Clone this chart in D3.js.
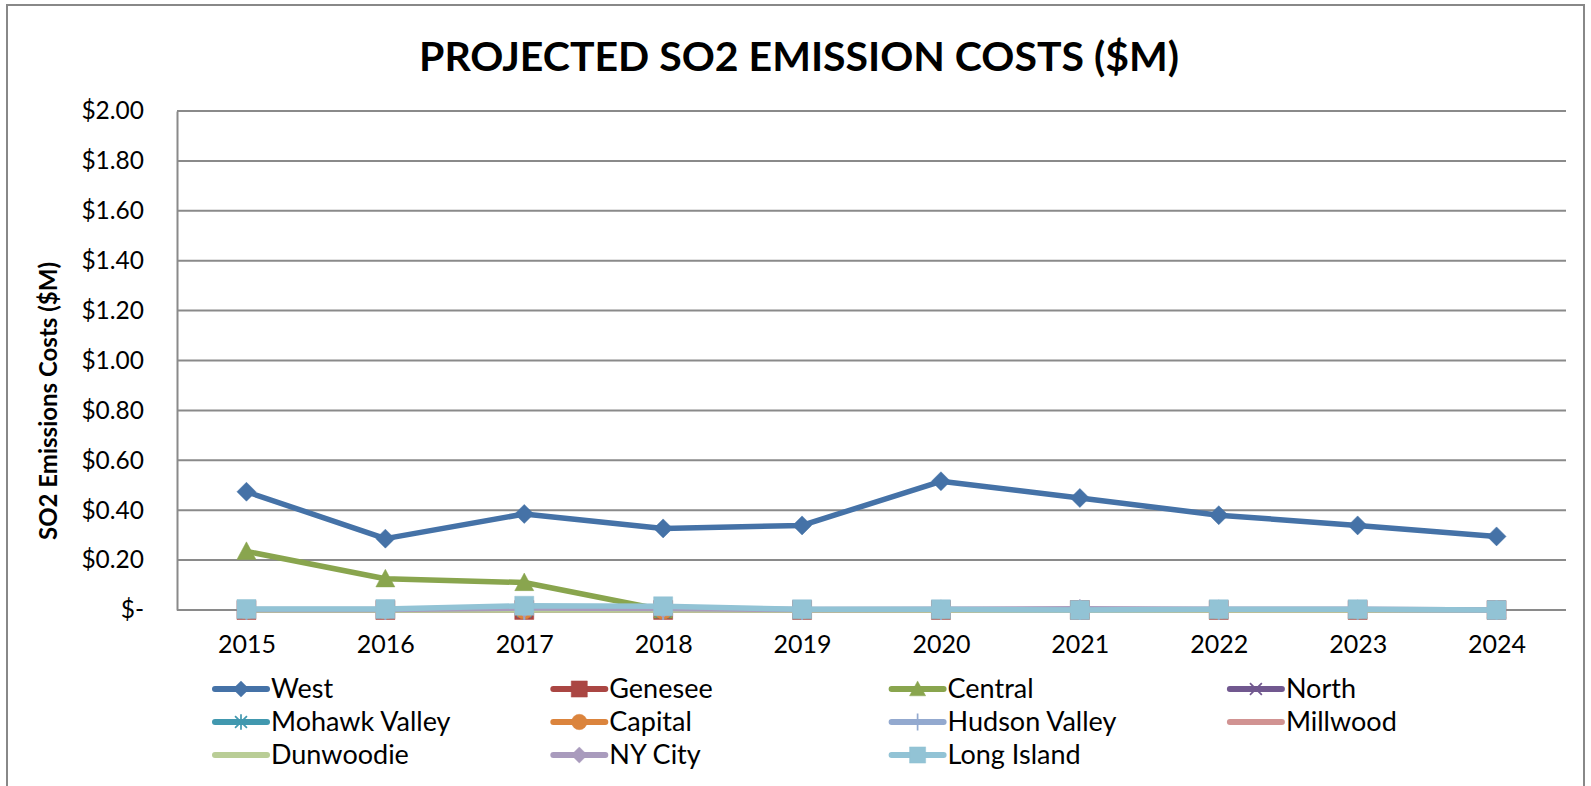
<!DOCTYPE html>
<html>
<head>
<meta charset="utf-8">
<script src="https://cdn.jsdelivr.net/npm/d3@7"></script>
<style>
  body { margin: 0; background: #fff; }
  svg text { font-family: Lato, "Open Sans", sans-serif; fill: #000; }
</style>
</head>
<body>
<div class="chartContainer"></div>
<script>
const width = 1591,
  height = 786;

// data ($M)
const years = [2015, 2016, 2017, 2018, 2019, 2020, 2021, 2022, 2023, 2024];
const west = [0.474, 0.286, 0.385, 0.327, 0.339, 0.516, 0.449, 0.38, 0.339, 0.295];
const genesee = [0, 0, 0, 0, 0, 0, 0, 0, 0, 0];
const central = [0.235, 0.125, 0.11, 0, 0, 0, 0, 0, 0, 0];
const north = [0, 0, 0, 0, 0, 0, 0, 0, 0, 0];
const mohawkValley = [0, 0, 0, 0, 0, 0, 0, 0, 0, 0];
const capital = [0, 0, 0, 0, 0, 0, 0, 0, 0, 0];
const hudsonValley = [0, 0, 0, 0, 0, 0, 0, 0, 0, 0];
const millwood = [0, 0, 0, 0, 0, 0, 0, 0, 0, 0];
const dunwoodie = [0, 0, 0, 0, 0, 0, 0, 0, 0, 0];
const nyCity = [0.002, 0.002, 0.008, 0.006, 0.002, 0.003, 0.005, 0.003, 0.003, 0];
const longIsland = [0.004, 0.004, 0.017, 0.015, 0.003, 0.003, 0, 0.003, 0.003, 0];
const yTicks = [0, 0.2, 0.4, 0.6, 0.8, 1.0, 1.2, 1.4, 1.6, 1.8, 2.0];

const series = [
  { name: "West", values: west, color: "#4572A7", marker: "diamond" },
  { name: "Genesee", values: genesee, color: "#AA4643", marker: "square" },
  { name: "Central", values: central, color: "#89A54E", marker: "triangle" },
  { name: "North", values: north, color: "#71588F", marker: "x" },
  { name: "Mohawk Valley", values: mohawkValley, color: "#4198AF", marker: "star" },
  { name: "Capital", values: capital, color: "#DB843D", marker: "circle" },
  { name: "Hudson Valley", values: hudsonValley, color: "#93A9CF", marker: "plus" },
  { name: "Millwood", values: millwood, color: "#D19392", marker: "none" },
  { name: "Dunwoodie", values: dunwoodie, color: "#B9CD96", marker: "none" },
  { name: "NY City", values: nyCity, color: "#A99BBD", marker: "diamond" },
  { name: "Long Island", values: longIsland, color: "#92C3D5", marker: "square" },
];

const plot = { left: 177, right: 1566, top: 111, bottom: 610 };

const svg = d3
  .select(".chartContainer")
  .append("svg")
  .attr("width", width)
  .attr("height", height);

// chart frame
svg
  .append("rect")
  .attr("x", 7)
  .attr("y", 5)
  .attr("width", 1577)
  .attr("height", 800)
  .attr("fill", "#fff")
  .attr("stroke", "#888")
  .attr("stroke-width", 2);

svg
  .append("text")
  .attr("x", 799)
  .attr("y", 71)
  .attr("text-anchor", "middle")
  .attr("font-size", 41)
  .attr("font-weight", "bold")
  .text("PROJECTED SO2 EMISSION COSTS ($M)");

const xScale = d3
  .scalePoint()
  .domain(years)
  .range([plot.left, plot.right])
  .padding(0.5);

const yScale = d3.scaleLinear().domain([0, 2]).range([plot.bottom, plot.top]);

// gridlines
svg
  .append("g")
  .selectAll("line")
  .data(yTicks)
  .enter()
  .append("line")
  .attr("x1", plot.left)
  .attr("x2", plot.right)
  .attr("y1", (d) => yScale(d))
  .attr("y2", (d) => yScale(d))
  .attr("stroke", "#8a8a8a")
  .attr("stroke-width", 2);

// y axis
const yAxis = d3
  .axisLeft(yScale)
  .tickValues(yTicks)
  .tickSize(0)
  .tickPadding(33)
  .tickFormat((d) => (d === 0 ? "$-" : "$" + d3.format(".2f")(d)));

svg
  .append("g")
  .attr("transform", `translate(${plot.left},0)`)
  .call(yAxis)
  .call((g) => g.select(".domain").attr("stroke", "#8a8a8a").attr("stroke-width", 2))
  .call((g) =>
    g.selectAll("text").attr("font-size", 24.5).attr("font-family", "Lato").attr("fill", "#000")
  );

// x axis
const xAxis = d3.axisBottom(xScale).tickSize(0).tickPadding(25);
svg
  .append("g")
  .attr("transform", `translate(0,${plot.bottom})`)
  .call(xAxis)
  .call((g) => g.select(".domain").remove())
  .call((g) =>
    g.selectAll("text").attr("font-size", 25).attr("font-family", "Lato").attr("fill", "#000")
  );

svg
  .append("text")
  .attr("transform", "translate(57,401) rotate(-90)")
  .attr("text-anchor", "middle")
  .attr("font-size", 24)
  .attr("font-weight", "bold")
  .text("SO2 Emissions Costs ($M)");

// marker shapes
function markerPath(type) {
  const s = 9.5;
  switch (type) {
    case "diamond":
      return `M0,${-s}L${s},0L0,${s}L${-s},0Z`;
    case "square":
      return `M${-s},${-s}H${s}V${s}H${-s}Z`;
    case "triangle":
      return `M0,${-s}L${s},${s * 0.85}L${-s},${s * 0.85}Z`;
    case "circle":
      return d3.symbol(d3.symbolCircle, 260)();
    case "x":
      return `M-7,-7L7,7M7,-7L-7,7`;
    case "star":
      return `M-7,-7L7,7M7,-7L-7,7M0,-9V9`;
    case "plus":
      return `M0,-10V10M-7,0H7`;
    default:
      return null;
  }
}
const stroked = (t) => t === "x" || t === "star" || t === "plus";

const line = d3
  .line()
  .x((d, i) => xScale(years[i]))
  .y((d) => yScale(d));

series.forEach((s) => {
  const g = svg.append("g");
  g.append("path")
    .attr("d", line(s.values))
    .attr("fill", "none")
    .attr("stroke", s.color)
    .attr("stroke-width", 5.5)
    .attr("stroke-linejoin", "round")
    .attr("stroke-linecap", "round");
  if (s.marker !== "none") {
    g.selectAll("path.mk")
      .data(s.values)
      .enter()
      .append("path")
      .attr("class", "mk")
      .attr("d", markerPath(s.marker))
      .attr("transform", (d, i) => `translate(${xScale(years[i])},${yScale(d)})`)
      .attr("fill", stroked(s.marker) ? "none" : s.color)
      .attr("stroke", s.color)
      .attr("stroke-width", stroked(s.marker) ? 2 : 0.5);
  }
});

// legend, 4 columns row by row
const legend = svg
  .append("g")
  .selectAll("g")
  .data(series)
  .enter()
  .append("g")
  .attr("transform", (d, i) => `translate(${213 + (i % 4) * 338.3},${689 + Math.floor(i / 4) * 33})`);

legend
  .append("line")
  .attr("x1", 2)
  .attr("x2", 54)
  .attr("stroke", (d) => d.color)
  .attr("stroke-width", 6)
  .attr("stroke-linecap", "round");

legend
  .filter((d) => d.marker !== "none")
  .append("path")
  .attr("d", (d) => markerPath(d.marker))
  .attr("transform", "translate(28,0) scale(0.85)")
  .attr("fill", (d) => (stroked(d.marker) ? "none" : d.color))
  .attr("stroke", (d) => d.color)
  .attr("stroke-width", (d) => (stroked(d.marker) ? 2 : 0.5));

legend
  .append("text")
  .attr("x", 58)
  .attr("y", 9)
  .attr("font-size", 27)
  .text((d) => d.name);
</script>
</body>
</html>
